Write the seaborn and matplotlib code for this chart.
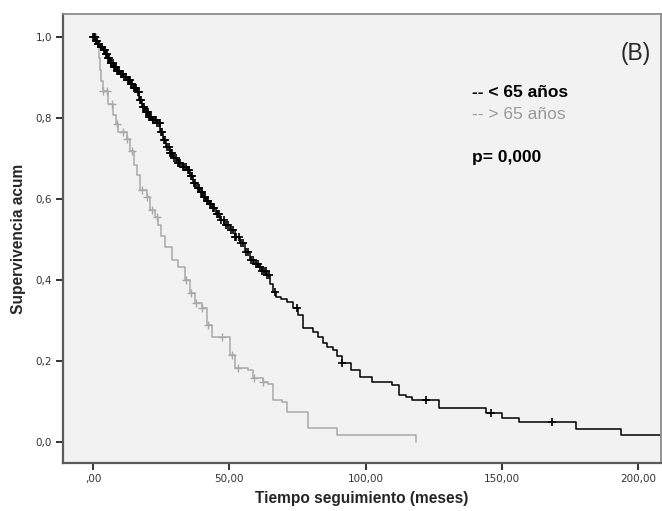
import numpy as np
import pandas as pd
import matplotlib
matplotlib.use("Agg")
import matplotlib.pyplot as plt
import seaborn as sns

# Kaplan-Meier steps (time in months, cumulative survival)
young_times = [0.0, 0.8, 1.6, 2.5, 3.6, 4.5, 5.4, 6.3, 7.2, 8.5, 9.8, 11.1, 12.4, 13.6,
               14.8, 16.0, 16.9, 17.9, 19.0, 20.1, 21.7, 23.4, 24.5, 25.6, 26.8, 28.1,
               29.4, 30.7, 32.5, 34.3, 35.4, 36.5, 37.7, 39.0, 40.2, 41.4, 42.7, 43.9,
               45.1, 46.4, 48.2, 50.1, 51.9, 53.8, 55.6, 57.4, 58.9, 60.5, 62.0, 63.6,
               65.0, 65.9, 67.3, 69.0, 71.0, 73.2, 75.1, 76.9, 80.6, 82.4, 84.2, 86.0,
               87.9, 89.5, 91.5, 94.5, 97.8, 102.5, 109.9, 112.4, 115.0, 117.0, 127.1,
               144.3, 150.2, 156.4, 177.3, 193.8, 212.0]
young_surv = [1.000, 0.992, 0.985, 0.977, 0.969, 0.958, 0.948, 0.937, 0.926, 0.918, 0.910,
              0.902, 0.894, 0.884, 0.874, 0.865, 0.846, 0.828, 0.815, 0.803, 0.796, 0.788,
              0.767, 0.746, 0.730, 0.714, 0.701, 0.689, 0.680, 0.672, 0.656, 0.640, 0.628,
              0.617, 0.605, 0.596, 0.587, 0.578, 0.563, 0.548, 0.535, 0.523, 0.507, 0.491,
              0.470, 0.449, 0.440, 0.431, 0.422, 0.412, 0.391, 0.370, 0.358, 0.352, 0.345,
              0.330, 0.313, 0.281, 0.272, 0.258, 0.244, 0.235, 0.227, 0.211, 0.195, 0.178,
              0.160, 0.148, 0.140, 0.115, 0.110, 0.103, 0.083, 0.071, 0.059, 0.049, 0.031,
              0.017, 0.017]
young_censored = [0.0, 0.3, 0.6, 1.1, 1.4, 1.9, 2.2, 2.7, 3.0, 3.4, 3.9, 4.2, 4.8, 5.1,
                  5.6, 5.9, 6.4, 6.7, 7.1, 7.5, 7.9, 8.2, 8.7, 9.0, 9.5, 10.1, 10.6,
                  11.0, 11.4, 12.0, 12.6, 13.0, 13.5, 13.9, 14.4, 14.9, 15.3, 15.8,
                  16.4, 16.8, 17.2, 17.7, 18.3, 18.8, 19.3, 19.6, 20.0, 20.5, 20.9,
                  21.2, 21.8, 22.1, 22.6, 23.0, 23.6, 24.0, 24.4, 24.9, 25.4, 25.9,
                  26.5, 27.0, 27.7, 28.2, 28.5, 29.1, 29.8, 30.4, 31.2, 31.6, 32.0,
                  32.8, 33.4, 34.0, 34.8, 35.3, 35.8, 36.3, 36.9, 37.5, 38.3, 38.8,
                  39.4, 40.0, 40.6, 41.2, 41.8, 42.2, 42.9, 43.4, 44.0, 44.5, 45.3,
                  45.7, 46.3, 47.0, 47.9, 48.8, 49.6, 50.6, 51.4, 52.0, 52.5, 53.4,
                  54.2, 55.1, 56.0, 57.0, 57.9, 58.6, 59.6, 60.4, 61.2, 62.1, 62.8,
                  63.4, 63.9, 64.6, 66.6, 74.7, 91.5, 122.3, 146.0, 168.3]

old_times = [0.0, 1.4, 2.0, 2.5, 3.0, 3.6, 5.4, 7.2, 8.2, 9.1, 12.4, 13.5, 14.9, 16.0,
             17.1, 19.7, 20.8, 22.6, 23.7, 25.0, 26.3, 28.8, 31.0, 33.6, 35.4, 37.3,
             39.8, 41.7, 43.5, 50.1, 51.9, 56.7, 58.5, 62.2, 64.0, 65.9, 69.5, 71.0,
             78.7, 89.7, 118.6]
old_surv = [1.000, 0.986, 0.950, 0.919, 0.893, 0.867, 0.835, 0.808, 0.787, 0.766, 0.749,
            0.719, 0.684, 0.660, 0.622, 0.605, 0.573, 0.556, 0.536, 0.509, 0.482, 0.450,
            0.432, 0.400, 0.368, 0.343, 0.331, 0.288, 0.259, 0.214, 0.182, 0.177, 0.158,
            0.148, 0.143, 0.103, 0.098, 0.073, 0.034, 0.017, 0.000]
old_censored = [1.0, 3.6, 5.1, 6.9, 8.7, 10.9, 12.4, 14.3, 17.9, 19.7, 21.6, 23.5, 34.0,
                35.8, 37.7, 39.8, 42.0, 47.2, 50.8, 53.0, 59.2, 62.2]

x_ticks = [0, 50, 100, 150, 200]
x_ticklabels = [",00", "50,00", "100,00", "150,00", "200,00"]
y_ticks = [0.0, 0.2, 0.4, 0.6, 0.8, 1.0]
y_ticklabels = ["0,0", "0,2", "0,4", "0,6", "0,8", "1,0"]

BLACK = "#000000"
GREY = "#a9a9a9"


def surv_at(times, surv, t):
    idx = np.searchsorted(times, t, side="right") - 1
    return np.asarray(surv)[idx]


sns.set_style("white")
plt.rcParams["font.family"] = ["Liberation Sans", "DejaVu Sans"]

fig = plt.figure(figsize=(6.62, 5.11), dpi=100)
ax = fig.add_axes([63 / 662, 48 / 511, 598 / 662, 449 / 511])
ax.set_facecolor("#f2f2f2")

young_df = pd.DataFrame({"t": young_times, "s": young_surv})
old_df = pd.DataFrame({"t": old_times, "s": old_surv})

sns.lineplot(data=old_df, x="t", y="s", drawstyle="steps-post", color=GREY,
             linewidth=1.1, estimator=None, sort=False, ax=ax)
sns.lineplot(data=young_df, x="t", y="s", drawstyle="steps-post", color=BLACK,
             linewidth=1.1, estimator=None, sort=False, ax=ax)

old_c = pd.DataFrame({"t": old_censored,
                      "s": surv_at(old_times, old_surv, old_censored)})
young_c = pd.DataFrame({"t": young_censored,
                        "s": surv_at(young_times, young_surv, young_censored)})
sns.scatterplot(data=old_c, x="t", y="s", marker="+", s=36, color=GREY,
                linewidth=1.0, ax=ax, zorder=3)
sns.scatterplot(data=young_c, x="t", y="s", marker="+", s=34, color=BLACK,
                linewidth=1.2, ax=ax, zorder=4)

ax.set_xlim(-11.1, 208.5)
ax.set_ylim(-0.053, 1.058)
ax.set_xticks(x_ticks)
ax.set_xticklabels(x_ticklabels, family="DejaVu Sans", fontsize=7.5, color="#333333")
ax.set_yticks(y_ticks)
ax.set_yticklabels(y_ticklabels, family="DejaVu Sans", fontsize=7.5, color="#333333")
ax.tick_params(axis="both", direction="out", length=5, width=1.3, color="#222222", pad=3,
               left=True, bottom=True)

for side in ["left", "bottom"]:
    ax.spines[side].set_color("#5a5a5a")
    ax.spines[side].set_linewidth(1.6)
for side in ["top", "right"]:
    ax.spines[side].set_color("#8c8c8c")
    ax.spines[side].set_linewidth(1.3)

ax.set_xlabel("Tiempo seguimiento (meses)", fontsize=11.2, fontweight="bold", labelpad=5)
ax.set_ylabel("Supervivencia acum", fontsize=11.2, fontweight="bold", labelpad=7)

ax.text(0.983, 0.911, "(B)", transform=ax.transAxes, ha="right", va="center", fontsize=16.5)
ax.text(0.684, 0.826, "-- < 65 años", transform=ax.transAxes, ha="left", va="center",
        fontsize=12.5, fontweight="bold", color=BLACK)
ax.text(0.684, 0.777, "-- > 65 años", transform=ax.transAxes, ha="left", va="center",
        fontsize=12.5, color="#9a9a9a")
ax.text(0.684, 0.681, "p= 0,000", transform=ax.transAxes, ha="left", va="center",
        fontsize=12.5, fontweight="bold", color=BLACK)

fig.savefig("out.png", dpi=100, facecolor="white")
plt.close(fig)
